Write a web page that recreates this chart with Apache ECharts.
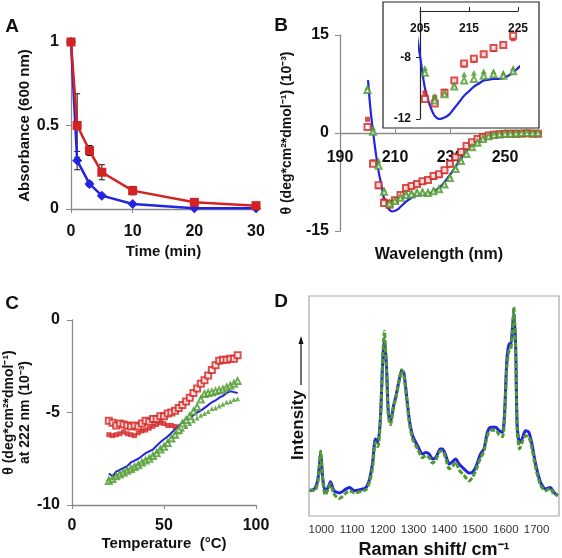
<!DOCTYPE html>
<html><head><meta charset="utf-8">
<script src="https://cdn.jsdelivr.net/npm/echarts@6/dist/echarts.min.js"></script>
<style>html,body{margin:0;padding:0;background:#fff}#c{width:562px;height:558px}</style>
</head><body><div id="c"></div>
<script>
// ---------- Panel A ----------
const timeMin = [0, 1, 3, 5, 10, 20, 30];
const absRed = [1, 0.5, 0.35, 0.22, 0.11, 0.04, 0.02];
const absBlue = [1, 0.29, 0.15, 0.08, 0.03, 0.005, 0.005];
const errRed = [0, 0.19, 0.03, 0.045, 0.025, 0.01, 0.005];
const errBlue = [0, 0.055, 0.015, 0.01, 0.008, 0, 0];

// ---------- Panel B ----------
const wlBlue = [200.2,201,202,203,204,205,206,207,208,209,210,211,212,213,214,215,216,217,218,219,220,221,222,223,224,225,226,227,228,229,230,231,232,233,234,235,236,237,238,239,240,241,242,244,246,248,250,254,258,262];
const cdBlue = [8.1,4.0,0.2,-3.0,-5.8,-7.9,-10.0,-11.1,-11.8,-12.0,-11.9,-11.7,-11.3,-10.9,-10.5,-10.2,-9.9,-9.7,-9.5,-9.45,-9.4,-9.4,-9.35,-9.2,-9.0,-8.7,-8.4,-8.0,-7.5,-6.95,-6.4,-5.8,-5.2,-4.5,-3.85,-3.3,-2.7,-2.2,-1.8,-1.45,-1.15,-0.9,-0.7,-0.4,-0.2,-0.05,0,0,0,0];
const wlPts = [200,202,204,206,208,210,212,214,216,218,220,222,224,226,228,230,232,234,236,238,240,242,244,246,248,250,252,254,256,258,260,262];
const cdRedFilled = [2.1,-4.4,-8.2,-10.3,-10.6,-10.2,-9.5,-8.5,-8.2,-7.8,-7.5,-7.2,-6.8,-6.5,-5.9,-4.9,-3.9,-3.1,-2.2,-1.5,-1.0,-0.7,-0.45,-0.3,-0.2,-0.15,-0.15,-0.1,-0.15,-0.1,-0.1,-0.1];
const cdRedOpen = [0.9,-4.7,-8.0,-10.7,-11.0,-10.3,-9.5,-8.4,-8.1,-7.8,-7.4,-7.2,-6.6,-6.3,-5.7,-4.7,-3.7,-2.9,-2.0,-1.4,-0.9,-0.6,-0.4,-0.25,-0.2,-0.1,-0.1,-0.1,-0.1,-0.05,-0.1,-0.1];
const cdGreenFilled = [7.0,0.8,-4.2,-8.7,-10.5,-10.3,-9.8,-9.1,-9.0,-8.9,-8.9,-9.0,-8.7,-8.5,-7.8,-6.6,-5.2,-4.1,-3.1,-2.1,-1.4,-0.8,-0.45,-0.25,-0.15,-0.1,-0.05,0,0,0,0,0];
const cdGreenOpen = [6.6,0.2,-5.0,-9.0,-10.8,-10.4,-9.9,-9.5,-9.4,-9.2,-9.1,-9.2,-8.9,-8.6,-7.9,-6.9,-5.5,-4.3,-3.2,-2.2,-1.5,-0.9,-0.5,-0.3,-0.2,-0.1,-0.1,-0.05,0,0,0,0];
const bMainXTicks = [190, 210, 230, 250];
const bInsetXTicks = [205, 215, 225];
const bInsetYTicks = [-12, -8];

// ---------- Panel C ----------
const tempC = [20,22,24,26,28,30,32,34,36,38,40,42,44,46,48,50,52,54,56,58,60,62,64,66,68,70,72,74,76,78,80,82,84,86,88,90];
const cRedOpen = [-5.45,-5.55,-5.7,-5.6,-5.65,-5.7,-5.75,-5.7,-5.75,-5.6,-5.45,-5.5,-5.35,-5.35,-5.2,-5.2,-5.05,-5.0,-4.9,-4.75,-4.6,-4.4,-4.2,-3.95,-3.7,-3.45,-3.25,-3.0,-2.7,-2.45,-2.2,-2.15,-2.15,-2.1,-2.1,-1.9];
const tempRedFilled = [20,22,24,26,28,30,32,34,36,38,40,42,44,46,48,50,52,54,56];
const cRedFilled = [-6.2,-6.25,-6.2,-6.15,-6.05,-6.15,-6.2,-6.25,-6.1,-6.0,-5.95,-5.85,-5.75,-5.65,-5.55,-5.6,-5.7,-5.7,-5.75];
const cBlue = [-8.3,-8.45,-8.2,-8.1,-8.0,-7.9,-7.7,-7.6,-7.5,-7.35,-7.2,-7.1,-7.0,-6.8,-6.6,-6.45,-6.3,-6.1,-5.9,-5.7,-5.55,-5.4,-5.3,-5.15,-5.0,-4.9,-4.75,-4.6,-4.45,-4.35,-4.2,-4.1,-3.95,-3.85,-3.9,-3.95];
const cGreenFilled = [-8.55,-8.6,-8.4,-8.3,-8.2,-8.05,-8.0,-7.9,-7.8,-7.7,-7.55,-7.45,-7.3,-7.15,-6.95,-6.8,-6.6,-6.45,-6.25,-6.05,-5.9,-5.75,-5.6,-5.45,-5.3,-5.15,-5.05,-4.95,-4.8,-4.75,-4.65,-4.55,-4.45,-4.4,-4.3,-4.25];
const cGreenOpen = [-8.7,-8.6,-8.45,-8.35,-8.25,-8.15,-8.05,-7.95,-7.85,-7.7,-7.6,-7.5,-7.35,-7.2,-7.0,-6.85,-6.65,-6.4,-6.2,-5.95,-5.6,-5.4,-5.2,-4.95,-4.7,-4.3,-4.0,-3.95,-3.9,-3.85,-3.8,-3.75,-3.65,-3.55,-3.45,-3.3];

// ---------- Panel D ----------
const ramanShift = [962,978,989,998,1005,1013,1022,1030,1041,1059,1081,1092,1108,1135,1146,1157,1167,1176,1184,1192,1200,1205,1212,1218,1225,1235,1243,1254,1261,1268,1275,1286,1297,1313,1329,1340,1351,1362,1373,1387,1394,1405,1416,1427,1437,1448,1464,1481,1491,1502,1518,1529,1540,1551,1567,1578,1589,1596,1603,1610,1616,1622,1626,1632,1637,1645,1653,1664,1675,1686,1697,1713,1729,1745,1756,1769];
const ramanBlue = [11.5,12.3,16.8,28.0,16.8,11.0,13.0,15.6,11.5,10.5,12.3,13.0,11.5,12.3,13.0,16.8,24.4,35,33.5,44,71,80,68.3,47.1,42.6,50.2,54.7,62.3,66,65.3,57.7,44.1,36.5,32,28.2,28.9,28.2,25.9,26.7,30.5,30.5,27.4,23.6,24.7,25.9,23.6,21.4,19.5,19.8,22.1,28.2,30.5,38,40.3,40.3,38.8,38,47.1,69.8,78.2,78.2,86.5,92,77.4,41.1,33.5,35,38.8,38,32,23.6,15.3,12.3,13,10.8,9.2];
const ramanGreen = [12,11.5,15.5,29.5,15.5,9.5,12.2,14.5,10,8.0,10.5,11.5,10.5,11.5,12,15.5,22,33.5,31.5,43,73,84,66,45.5,41.5,49.5,54,62,66.5,64,56.5,42.5,35,30.5,26.5,27.5,26.5,24,25.5,29.5,29.5,26,21.5,22.5,24.5,21,18.5,16,17.5,20.5,26.5,29.5,36.5,39,39,37,36,44,67,75,75.5,85,95,75,39,30.5,33.5,36.5,36,30,22,14,11.5,12.5,10,9.5];
const ramanTicks = [1000,1100,1200,1300,1400,1500,1600,1700];

// ---------- styling ----------
const FF = '"Liberation Sans", Arial, sans-serif';
const RED = '#d42222', BLUE = '#2323e0', GREEN = '#4e9a2e', AX = '#8a8a8a';
const zip = (a, b) => a.map((v, i) => [v, b[i]]);
const plain = v => String(v);

function errRender(params, api) {
  const x = api.value(0), lo = api.value(1), hi = api.value(2);
  if (hi - lo <= 0) return null;
  const p1 = api.coord([x, hi]), p2 = api.coord([x, lo]);
  const w = 3, st = { stroke: '#111', lineWidth: 1 };
  return { type: 'group', children: [
    { type: 'line', shape: { x1: p1[0], y1: p1[1], x2: p2[0], y2: p2[1] }, style: st },
    { type: 'line', shape: { x1: p1[0] - w, y1: p1[1], x2: p1[0] + w, y2: p1[1] }, style: st },
    { type: 'line', shape: { x1: p2[0] - w, y1: p2[1], x2: p2[0] + w, y2: p2[1] }, style: st }
  ]};
}
const errData = (vals, errs) => timeMin.map((t, i) => [t, vals[i] - errs[i], vals[i] + errs[i]]);

const boldLab = (size, margin) => ({ fontFamily: FF, fontWeight: 'bold', fontSize: size, color: '#111', margin: margin, formatter: plain });
const axLine = (c, w) => ({ show: true, lineStyle: { color: c || AX, width: w || 1.3 } });

const option = {
  animation: false,
  backgroundColor: '#fff',
  grid: [
    { left: 71, top: 42, width: 185, height: 167, outerBoundsMode: 'none' },
    { left: 340, top: 35, width: 198, height: 196, outerBoundsMode: 'none' },
    { left: 420, top: 11, width: 98, height: 108, outerBoundsMode: 'none' },
    { left: 72, top: 320, width: 184, height: 185, outerBoundsMode: 'none' },
    { left: 309, top: 296, width: 250, height: 220, show: true, borderColor: '#a8a8a8', borderWidth: 1.2, outerBoundsMode: 'none' }
  ],
  xAxis: [
    { gridIndex: 0, type: 'value', min: 0, max: 30, interval: 10, axisLine: Object.assign(axLine(), { onZero: false }),
      axisTick: { show: true, length: 4, lineStyle: { color: AX } }, axisLabel: boldLab(16, 15), splitLine: { show: false },
      name: 'Time (min)', nameLocation: 'middle', nameGap: 35, nameTextStyle: { fontFamily: FF, fontWeight: 'bold', fontSize: 15, color: '#111' } },
    { gridIndex: 1, type: 'value', min: 190, max: 262, position: 'bottom', offset: -98, axisLine: Object.assign(axLine(), { onZero: false }),
      axisTick: { show: true, length: 4, inside: true, customValues: bMainXTicks, lineStyle: { color: AX } },
      axisLabel: Object.assign(boldLab(16, 17), { customValues: bMainXTicks }), splitLine: { show: false },
      name: 'Wavelength (nm)', nameLocation: 'middle', nameGap: 114, nameTextStyle: { fontFamily: FF, fontWeight: 'bold', fontSize: 16, color: '#111' } },
    { gridIndex: 2, type: 'value', min: 205, max: 225, position: 'top', axisLine: { show: true, onZero: false, lineStyle: { color: '#222', width: 1.2 } },
      axisTick: { show: true, length: 4, customValues: bInsetXTicks, lineStyle: { color: '#222' } },
      axisLabel: Object.assign(boldLab(12, 12), { inside: true, customValues: bInsetXTicks }), splitLine: { show: false } },
    { gridIndex: 3, type: 'value', min: 0, max: 100, interval: 50, axisLine: Object.assign(axLine(), { onZero: false }),
      axisTick: { show: true, length: 4, lineStyle: { color: AX } }, axisLabel: boldLab(16, 13), splitLine: { show: false },
      name: 'Temperature  (°C)', nameLocation: 'middle', nameGap: 31, nameTextStyle: { fontFamily: FF, fontWeight: 'bold', fontSize: 15, color: '#111' } },
    { gridIndex: 4, type: 'value', min: 960, max: 1773, axisLine: { show: false, onZero: false }, axisTick: { show: false },
      axisLabel: { customValues: ramanTicks, fontFamily: FF, fontSize: 11.5, color: '#333', margin: 8, formatter: plain }, splitLine: { show: false },
      name: 'Raman shift/ cm⁻¹', nameLocation: 'middle', nameGap: 25, nameTextStyle: { fontFamily: FF, fontWeight: 'bold', fontSize: 18, color: '#111' } }
  ],
  yAxis: [
    { gridIndex: 0, type: 'value', min: 0, max: 1, interval: 0.5, axisLine: Object.assign(axLine(), { onZero: false }),
      axisTick: { show: true, length: 5, lineStyle: { color: AX } }, axisLabel: boldLab(16, 12), splitLine: { show: false },
      name: 'Absorbance (600 nm)', nameLocation: 'middle', nameGap: 34, nameRotate: 90, nameTextStyle: { fontFamily: FF, fontWeight: 'bold', fontSize: 15, color: '#111' } },
    { gridIndex: 1, type: 'value', min: -15, max: 15, interval: 15, axisLine: Object.assign(axLine(), { onZero: false }),
      axisTick: { show: true, length: 5, lineStyle: { color: AX } }, axisLabel: boldLab(16, 11), splitLine: { show: false },
      name: 'θ (deg*cm²*dmol⁻¹) (10⁻³)', nameLocation: 'middle', nameGap: 46, nameRotate: 90, nameTextStyle: { fontFamily: FF, fontWeight: 'bold', fontSize: 14, color: '#111' } },
    { gridIndex: 2, type: 'value', min: -12, max: -5, axisLine: { show: true, onZero: false, lineStyle: { color: '#222', width: 1.2 } },
      axisTick: { show: true, length: 4, customValues: bInsetYTicks, lineStyle: { color: '#222' } },
      axisLabel: Object.assign(boldLab(12, 9), { customValues: bInsetYTicks }), splitLine: { show: false } },
    { gridIndex: 3, type: 'value', min: -10, max: 0, interval: 5, axisLine: Object.assign(axLine(), { onZero: false }),
      axisTick: { show: true, length: 5, lineStyle: { color: AX } }, axisLabel: boldLab(16, 12), splitLine: { show: false },
      name: 'θ (deg*cm²*dmol⁻¹)\nat 222 nm (10⁻³)', nameLocation: 'middle', nameGap: 34, nameRotate: 90,
      nameTextStyle: { fontFamily: FF, fontWeight: 'bold', fontSize: 14, lineHeight: 16, color: '#111' } },
    { gridIndex: 4, type: 'value', min: 0, max: 100, show: true, axisLine: { show: false, onZero: false }, axisTick: { show: false },
      axisLabel: { show: false }, splitLine: { show: false } }
  ],
  graphic: [
    { type: 'text', x: 12, y: 27, style: { text: 'A', font: 'bold 19px ' + FF, fill: '#111', textAlign: 'center', textVerticalAlign: 'middle' } },
    { type: 'text', x: 281, y: 26, style: { text: 'B', font: 'bold 19px ' + FF, fill: '#111', textAlign: 'center', textVerticalAlign: 'middle' } },
    { type: 'text', x: 12, y: 304, style: { text: 'C', font: 'bold 19px ' + FF, fill: '#111', textAlign: 'center', textVerticalAlign: 'middle' } },
    { type: 'text', x: 281, y: 302, style: { text: 'D', font: 'bold 19px ' + FF, fill: '#111', textAlign: 'center', textVerticalAlign: 'middle' } },
    { type: 'rect', shape: { x: 383, y: 2, width: 156, height: 126 }, style: { fill: 'none', stroke: '#222', lineWidth: 1.2 } },
    { type: 'text', x: 298, y: 425, rotation: Math.PI / 2, style: { text: 'Intensity', font: 'bold 17px ' + FF, fill: '#111', textAlign: 'center', textVerticalAlign: 'middle' } },
    { type: 'line', shape: { x1: 301, y1: 385, x2: 301, y2: 342 }, style: { stroke: '#111', lineWidth: 1.2 } },
    { type: 'polygon', shape: { points: [[301, 336], [298.5, 344], [303.5, 344]] }, style: { fill: '#111' } }
  ],
  series: [
    // Panel A
    { type: 'custom', xAxisIndex: 0, yAxisIndex: 0, renderItem: errRender, data: errData(absBlue, errBlue), z: 1 },
    { type: 'custom', xAxisIndex: 0, yAxisIndex: 0, renderItem: errRender, data: errData(absRed, errRed), z: 1 },
    { type: 'line', xAxisIndex: 0, yAxisIndex: 0, data: zip(timeMin, absBlue), symbol: 'diamond', symbolSize: 10,
      itemStyle: { color: BLUE }, lineStyle: { color: BLUE, width: 2.5 }, z: 3 },
    { type: 'line', xAxisIndex: 0, yAxisIndex: 0, data: zip(timeMin, absRed), symbol: 'rect', symbolSize: 9,
      itemStyle: { color: RED }, lineStyle: { color: RED, width: 2.5 }, z: 4 },
    // Panel B main
    { type: 'line', xAxisIndex: 1, yAxisIndex: 1, data: zip(wlBlue, cdBlue), showSymbol: false, smooth: 0.3,
      lineStyle: { color: BLUE, width: 2.2 }, z: 2 },
    { type: 'scatter', xAxisIndex: 1, yAxisIndex: 1, data: zip(wlPts, cdRedFilled), symbol: 'rect', symbolSize: 5, itemStyle: { color: RED }, z: 3 },
    { type: 'scatter', xAxisIndex: 1, yAxisIndex: 1, data: zip(wlPts, cdRedOpen), symbol: 'emptyRect', symbolSize: 6, itemStyle: { color: RED, borderWidth: 1 }, z: 3 },
    { type: 'scatter', xAxisIndex: 1, yAxisIndex: 1, data: zip(wlPts, cdGreenFilled), symbol: 'triangle', symbolSize: 6, itemStyle: { color: GREEN }, z: 4 },
    { type: 'scatter', xAxisIndex: 1, yAxisIndex: 1, data: zip(wlPts, cdGreenOpen), symbol: 'emptyTriangle', symbolSize: 6, itemStyle: { color: GREEN, borderWidth: 1 }, z: 4 },
    // Panel B inset
    { type: 'line', xAxisIndex: 2, yAxisIndex: 2, data: zip(wlBlue, cdBlue), showSymbol: false, smooth: 0.3,
      lineStyle: { color: BLUE, width: 2.2 }, z: 2 },
    { type: 'scatter', xAxisIndex: 2, yAxisIndex: 2, data: zip(wlPts, cdRedFilled), symbol: 'rect', symbolSize: 5, itemStyle: { color: RED }, z: 3 },
    { type: 'scatter', xAxisIndex: 2, yAxisIndex: 2, data: zip(wlPts, cdRedOpen), symbol: 'emptyRect', symbolSize: 6, itemStyle: { color: RED, borderWidth: 1 }, z: 3 },
    { type: 'scatter', xAxisIndex: 2, yAxisIndex: 2, data: zip(wlPts, cdGreenFilled), symbol: 'triangle', symbolSize: 6, itemStyle: { color: GREEN }, z: 4 },
    { type: 'scatter', xAxisIndex: 2, yAxisIndex: 2, data: zip(wlPts, cdGreenOpen), symbol: 'emptyTriangle', symbolSize: 6, itemStyle: { color: GREEN, borderWidth: 1 }, z: 4 },
    // Panel C
    { type: 'scatter', xAxisIndex: 3, yAxisIndex: 3, data: zip(tempRedFilled, cRedFilled), symbol: 'rect', symbolSize: 5, itemStyle: { color: RED }, z: 3 },
    { type: 'scatter', xAxisIndex: 3, yAxisIndex: 3, data: zip(tempC, cRedOpen), symbol: 'emptyRect', symbolSize: 6, itemStyle: { color: RED, borderWidth: 1 }, z: 3 },
    { type: 'line', xAxisIndex: 3, yAxisIndex: 3, data: zip(tempC, cBlue), showSymbol: false, lineStyle: { color: BLUE, width: 2 }, z: 2 },
    { type: 'scatter', xAxisIndex: 3, yAxisIndex: 3, data: zip(tempC, cGreenFilled), symbol: 'triangle', symbolSize: 5, itemStyle: { color: GREEN }, z: 4 },
    { type: 'scatter', xAxisIndex: 3, yAxisIndex: 3, data: zip(tempC, cGreenOpen), symbol: 'emptyTriangle', symbolSize: 6, itemStyle: { color: GREEN, borderWidth: 1 }, z: 4 },
    // Panel D
    { type: 'line', xAxisIndex: 4, yAxisIndex: 4, data: zip(ramanShift, ramanBlue), showSymbol: false, smooth: 0.25,
      lineStyle: { color: BLUE, width: 3 }, z: 2 },
    { type: 'line', xAxisIndex: 4, yAxisIndex: 4, data: zip(ramanShift, ramanGreen), showSymbol: false, smooth: 0.25,
      lineStyle: { color: GREEN, width: 3, type: [5, 2] }, z: 3 }
  ]
};

const chart = echarts.init(document.getElementById('c'), null, { renderer: 'canvas' });
chart.setOption(option);
</script></body></html>
